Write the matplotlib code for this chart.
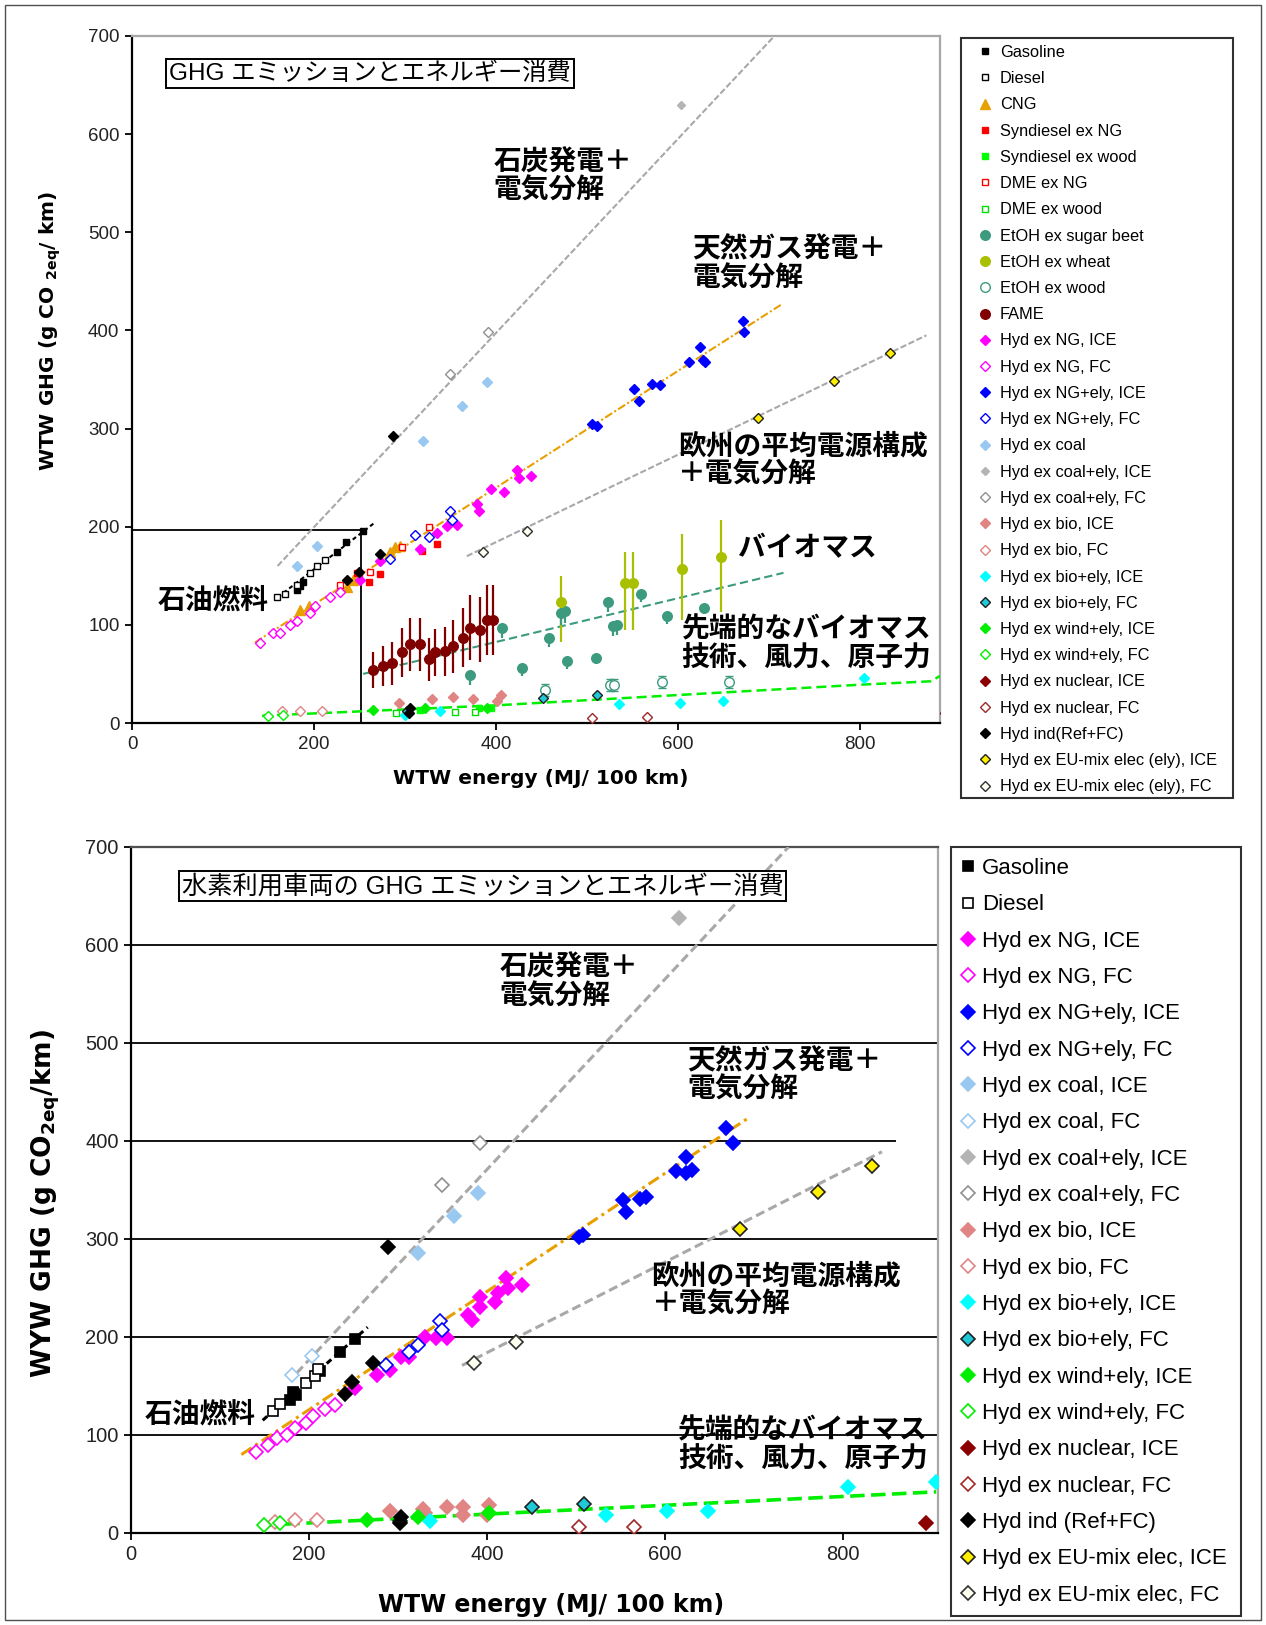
import matplotlib
matplotlib.use("Agg")
import matplotlib.pyplot as plt
from matplotlib.patches import Rectangle

plt.rcParams['font.family'] = ['Liberation Sans', 'Noto Sans CJK JP', 'DejaVu Sans']
plt.rcParams['mathtext.fontset'] = 'dejavusans'

W, H = 1266, 1625

# ======================= DATA : top panel =======================
t_gasoline_x = [181, 185, 188, 225, 235, 254]
t_gasoline_y = [136, 140, 144, 174, 184, 196]
t_diesel_x = [159, 168, 181, 196, 203, 212]
t_diesel_y = [128, 131, 141, 153, 160, 166]
t_cng_x = [185, 194, 236, 243, 284, 289, 295]
t_cng_y = [115, 119, 139, 146, 174, 179, 180]
t_synng_x = [247, 260, 273, 319, 335]
t_synng_y = [153, 144, 152, 175, 182]
t_synwood_x = [317, 381, 394]
t_synwood_y = [13.6, 15.6, 15.6]
t_dmeng_x = [229, 249, 262, 297, 326]
t_dmeng_y = [141, 153, 154, 179, 200]
t_dmewood_x = [290, 355, 377]
t_dmewood_y = [10.5, 11.5, 11.5]
t_beet_x = [372, 407, 429, 458, 472, 476, 478, 510, 523, 529, 533, 559, 588, 629]
t_beet_y = [49, 97, 56, 87, 112, 114, 63, 66, 123, 99, 100, 131, 109, 117]
t_beet_lo = [10, 10, 8, 10, 12, 12, 8, 6, 10, 10, 10, 8, 8, 6]
t_beet_hi = [2, 2, 2, 2, 2, 2, 2, 2, 2, 2, 2, 2, 2, 2]
t_wheat_x = [471, 542, 551, 604, 647]
t_wheat_y = [123, 143, 143, 157, 169]
t_wheat_lo = [40, 48, 48, 52, 56]
t_wheat_hi = [27, 31, 31, 36, 38]
t_etohwood_x = [454, 525, 530, 582, 656]
t_etohwood_y = [34, 39, 39, 42, 42]
t_etohwood_err = [6, 6, 6, 6, 6]
t_fame_x = [265, 276, 286, 297, 306, 317, 326, 333, 344, 353, 364, 372, 383, 390, 397]
t_fame_y = [54, 58, 61, 72, 80, 80, 65, 72, 73, 78, 87, 97, 95, 105, 105]
t_fame_err = [18, 20, 22, 25, 27, 27, 22, 24, 25, 27, 30, 33, 33, 36, 36]
t_ngice_x = [251, 273, 317, 335, 346, 357, 379, 381, 394, 409, 423, 425, 438]
t_ngice_y = [146, 165, 177, 194, 201, 202, 223, 216, 238, 235, 258, 250, 252]
t_ngfc_x = [141, 155, 163, 174, 181, 196, 201, 218, 229]
t_ngfc_y = [82, 92, 92, 100, 104, 112, 119, 128, 133]
t_ngelyice_x = [505, 511, 552, 557, 572, 580, 612, 624, 627, 630, 671, 673]
t_ngelyice_y = [305, 303, 340, 328, 345, 344, 368, 383, 370, 368, 410, 398]
t_ngelyfc_x = [284, 311, 326, 350, 352]
t_ngelyfc_y = [167, 192, 190, 216, 207]
t_coal_x = [181, 203, 320, 363, 390]
t_coal_y = [160, 180, 287, 323, 347]
t_coalelyice_x = [603]
t_coalelyice_y = [630]
t_coalelyfc_x = [350, 391]
t_coalelyfc_y = [356, 398]
t_bioice_x = [293, 330, 353, 375, 401, 405]
t_bioice_y = [20, 24, 26, 24, 22, 29]
t_biofc_x = [165, 185, 209]
t_biofc_y = [12, 12, 12]
t_bioelyice_x = [300, 339, 535, 602, 649, 804]
t_bioelyice_y = [8.5, 12, 19, 20, 22, 46]
t_bioelyfc_x = [302, 452, 511]
t_bioelyfc_y = [12, 25, 29]
t_windice_x = [265, 322, 390]
t_windice_y = [13.6, 15.6, 15.6]
t_windfc_x = [150, 166]
t_windfc_y = [6.8, 8.5]
t_nucice_x = [894]
t_nucice_y = [10]
t_nucfc_x = [505, 566]
t_nucfc_y = [5.4, 6.4]
t_ind_x = [236, 249, 273, 287, 304, 306]
t_ind_y = [146, 154, 172, 292, 10.5, 15.6]
t_euice_x = [688, 772, 833]
t_euice_y = [311, 348, 377]
t_eufc_x = [386, 434]
t_eufc_y = [174, 196]

# trend lines (top)
t_coal_line_x = [160, 706]
t_coal_line_y = [160, 700]
t_ng_line_x = [135, 713]
t_ng_line_y = [82, 426]
t_eu_line_x = [368, 873]
t_eu_line_y = [170, 395]
t_etoh_line_x = [254, 716]
t_etoh_line_y = [50, 153]
t_green_line_x = [143, 400, 800, 878, 888]
t_green_line_y = [7.4, 18, 39, 42.5, 48]
t_oil_line_x = [160, 268]
t_oil_line_y = [128, 205]
t_box_x = 252
t_box_y = 197

# ======================= DATA : bottom panel =======================
b_gasoline_x = [179, 182, 186, 212, 235, 252]
b_gasoline_y = [136, 144, 141, 165, 185, 198]
b_diesel_x = [160, 167, 197, 207, 210]
b_diesel_y = [125, 132, 153, 160, 167]
b_ngice_x = [252, 276, 291, 304, 313, 330, 343, 355, 379, 383, 392, 392, 409, 413, 422, 424, 440]
b_ngice_y = [148, 161, 166, 180, 180, 200, 199, 199, 222, 217, 231, 241, 236, 245, 260, 250, 253]
b_ngfc_x = [140, 154, 164, 175, 184, 197, 205, 218, 229]
b_ngfc_y = [83, 90, 97, 100, 107, 112, 119, 127, 131]
b_ngelyice_x = [504, 508, 553, 556, 572, 579, 613, 624, 624, 630, 669, 677]
b_ngelyice_y = [302, 304, 340, 328, 341, 343, 369, 384, 367, 370, 413, 398]
b_ngelyfc_x = [287, 313, 323, 347, 350]
b_ngelyfc_y = [171, 185, 192, 216, 207]
b_coalice_x = [323, 363, 390]
b_coalice_y = [286, 323, 347]
b_coalfc_x = [181, 203]
b_coalfc_y = [161, 181]
b_coalelyice_x = [616]
b_coalelyice_y = [628]
b_coalelyfc_x = [350, 392]
b_coalelyfc_y = [355, 398]
b_bioice_x = [291, 328, 330, 355, 373, 373, 400, 402]
b_bioice_y = [22, 25, 20, 27, 27, 18, 18, 28.5]
b_biofc_x = [162, 184, 209]
b_biofc_y = [11.5, 13.6, 13.6]
b_bioelyice_x = [336, 534, 602, 649, 806, 905]
b_bioelyice_y = [12, 18, 22, 22, 47, 52]
b_bioelyfc_x = [302, 451, 509]
b_bioelyfc_y = [12, 27, 30]
b_windice_x = [265, 323, 402]
b_windice_y = [13.3, 16.6, 20]
b_windfc_x = [149, 167]
b_windfc_y = [8, 9.9]
b_nucice_x = [894]
b_nucice_y = [10]
b_nucfc_x = [503, 565]
b_nucfc_y = [6.5, 6.5]
b_ind_x = [240, 248, 272, 289, 302, 304]
b_ind_y = [142, 154, 173, 292, 10, 16.6]
b_euice_x = [684, 772, 833]
b_euice_y = [310, 348, 375]
b_eufc_x = [386, 433]
b_eufc_y = [173, 195]

b_coal_line_x = [186, 739]
b_coal_line_y = [163, 700]
b_ng_line_x = [124, 693]
b_ng_line_y = [80, 423]
b_eu_line_x = [372, 844]
b_eu_line_y = [171, 389]
b_green_line_x = [150, 905]
b_green_line_y = [8, 42]
b_oil_line_x = [148, 266]
b_oil_line_y = [115, 210]
b_grid_y = [100, 200, 300, 500, 600]
b_grid400_end = 860

# ======================= STYLES =======================
ORANGE = '#E8A000'
TEAL = '#3C9A7E'
STY = {
    'Gasoline': ('s', 'black', 'black'),
    'Diesel': ('s', 'white', 'black'),
    'CNG': ('^', ORANGE, ORANGE),
    'Syndiesel ex NG': ('s', '#FF0000', '#FF0000'),
    'Syndiesel ex wood': ('s', '#00FF00', '#00FF00'),
    'DME ex NG': ('s', 'white', '#FF0000'),
    'DME ex wood': ('s', 'white', '#00DD00'),
    'EtOH ex sugar beet': ('o', TEAL, TEAL),
    'EtOH ex wheat': ('o', '#A8C000', '#A8C000'),
    'EtOH ex wood': ('o', 'white', TEAL),
    'FAME': ('o', '#800000', '#800000'),
    'NGICE': ('D', '#FF00FF', '#FF00FF'),
    'NGFC': ('D', 'white', '#FF00FF'),
    'NGELYICE': ('D', '#0000FF', '#0000FF'),
    'NGELYFC': ('D', 'white', '#0000FF'),
    'COALICE': ('D', '#99C8F0', '#99C8F0'),
    'COALFC': ('D', 'white', '#99C8F0'),
    'COALELYICE': ('D', '#B4B4B4', '#B4B4B4'),
    'COALELYFC': ('D', 'white', '#909090'),
    'BIOICE': ('D', '#E08484', '#E08484'),
    'BIOFC': ('D', 'white', '#E08484'),
    'BIOELYICE': ('D', '#00FFFF', '#00FFFF'),
    'BIOELYFC': ('D', '#20C8D8', '#202020'),
    'WINDICE': ('D', '#00EE00', '#00EE00'),
    'WINDFC': ('D', 'white', '#00EE00'),
    'NUCICE': ('D', '#8B0000', '#8B0000'),
    'NUCFC': ('D', 'white', '#A02828'),
    'IND': ('D', 'black', 'black'),
    'EUICE': ('D', '#FFF000', '#202020'),
    'EUFC': ('D', '#FFFFF0', '#303030'),
}

top_series = [
    ('Gasoline', 'Gasoline', t_gasoline_x, t_gasoline_y),
    ('Diesel', 'Diesel', t_diesel_x, t_diesel_y),
    ('CNG', 'CNG', t_cng_x, t_cng_y),
    ('Syndiesel ex NG', 'Syndiesel ex NG', t_synng_x, t_synng_y),
    ('Syndiesel ex wood', 'Syndiesel ex wood', t_synwood_x, t_synwood_y),
    ('DME ex NG', 'DME ex NG', t_dmeng_x, t_dmeng_y),
    ('DME ex wood', 'DME ex wood', t_dmewood_x, t_dmewood_y),
    ('EtOH ex sugar beet', 'EtOH ex sugar beet', t_beet_x, t_beet_y),
    ('EtOH ex wheat', 'EtOH ex wheat', t_wheat_x, t_wheat_y),
    ('EtOH ex wood', 'EtOH ex wood', t_etohwood_x, t_etohwood_y),
    ('FAME', 'FAME', t_fame_x, t_fame_y),
    ('NGICE', 'Hyd ex NG, ICE', t_ngice_x, t_ngice_y),
    ('NGFC', 'Hyd ex NG, FC', t_ngfc_x, t_ngfc_y),
    ('NGELYICE', 'Hyd ex NG+ely, ICE', t_ngelyice_x, t_ngelyice_y),
    ('NGELYFC', 'Hyd ex NG+ely, FC', t_ngelyfc_x, t_ngelyfc_y),
    ('COALICE', 'Hyd ex coal', t_coal_x, t_coal_y),
    ('COALELYICE', 'Hyd ex coal+ely, ICE', t_coalelyice_x, t_coalelyice_y),
    ('COALELYFC', 'Hyd ex coal+ely, FC', t_coalelyfc_x, t_coalelyfc_y),
    ('BIOICE', 'Hyd ex bio, ICE', t_bioice_x, t_bioice_y),
    ('BIOFC', 'Hyd ex bio, FC', t_biofc_x, t_biofc_y),
    ('BIOELYICE', 'Hyd ex bio+ely, ICE', t_bioelyice_x, t_bioelyice_y),
    ('BIOELYFC', 'Hyd ex bio+ely, FC', t_bioelyfc_x, t_bioelyfc_y),
    ('WINDICE', 'Hyd ex wind+ely, ICE', t_windice_x, t_windice_y),
    ('WINDFC', 'Hyd ex wind+ely, FC', t_windfc_x, t_windfc_y),
    ('NUCICE', 'Hyd ex nuclear, ICE', t_nucice_x, t_nucice_y),
    ('NUCFC', 'Hyd ex nuclear, FC', t_nucfc_x, t_nucfc_y),
    ('IND', 'Hyd ind(Ref+FC)', t_ind_x, t_ind_y),
    ('EUICE', 'Hyd ex EU-mix elec (ely), ICE', t_euice_x, t_euice_y),
    ('EUFC', 'Hyd ex EU-mix elec (ely), FC', t_eufc_x, t_eufc_y),
]

bottom_series = [
    ('Gasoline', 'Gasoline', b_gasoline_x, b_gasoline_y),
    ('Diesel', 'Diesel', b_diesel_x, b_diesel_y),
    ('NGICE', 'Hyd ex NG, ICE', b_ngice_x, b_ngice_y),
    ('NGFC', 'Hyd ex NG, FC', b_ngfc_x, b_ngfc_y),
    ('NGELYICE', 'Hyd ex NG+ely, ICE', b_ngelyice_x, b_ngelyice_y),
    ('NGELYFC', 'Hyd ex NG+ely, FC', b_ngelyfc_x, b_ngelyfc_y),
    ('COALICE', 'Hyd ex coal, ICE', b_coalice_x, b_coalice_y),
    ('COALFC', 'Hyd ex coal, FC', b_coalfc_x, b_coalfc_y),
    ('COALELYICE', 'Hyd ex coal+ely, ICE', b_coalelyice_x, b_coalelyice_y),
    ('COALELYFC', 'Hyd ex coal+ely, FC', b_coalelyfc_x, b_coalelyfc_y),
    ('BIOICE', 'Hyd ex bio, ICE', b_bioice_x, b_bioice_y),
    ('BIOFC', 'Hyd ex bio, FC', b_biofc_x, b_biofc_y),
    ('BIOELYICE', 'Hyd ex bio+ely, ICE', b_bioelyice_x, b_bioelyice_y),
    ('BIOELYFC', 'Hyd ex bio+ely, FC', b_bioelyfc_x, b_bioelyfc_y),
    ('WINDICE', 'Hyd ex wind+ely, ICE', b_windice_x, b_windice_y),
    ('WINDFC', 'Hyd ex wind+ely, FC', b_windfc_x, b_windfc_y),
    ('NUCICE', 'Hyd ex nuclear, ICE', b_nucice_x, b_nucice_y),
    ('NUCFC', 'Hyd ex nuclear, FC', b_nucfc_x, b_nucfc_y),
    ('IND', 'Hyd ind (Ref+FC)', b_ind_x, b_ind_y),
    ('EUICE', 'Hyd ex EU-mix elec, ICE', b_euice_x, b_euice_y),
    ('EUFC', 'Hyd ex EU-mix elec, FC', b_eufc_x, b_eufc_y),
]


def msize(marker, scale):
    base = {'s': 4.3, 'D': 4.2, 'o': 6.0, '^': 6.0}[marker]
    return base * scale


fig = plt.figure(figsize=(W / 100, H / 100), dpi=100)


def px_axes(x0, y0, x1, y1):
    return fig.add_axes([x0 / W, 1 - y1 / H, (x1 - x0) / W, (y1 - y0) / H])


def setup(ax, xmax, fs, top_color, right_color):
    ax.set_xlim(0, xmax)
    ax.set_ylim(0, 700)
    ax.set_xticks([0, 200, 400, 600, 800])
    ax.set_yticks(range(0, 701, 100))
    ax.tick_params(direction='out', length=5, width=1.3, labelsize=fs, pad=4, colors='black')
    ax.tick_params(axis='both', labelcolor='#222222')
    for s in ('left', 'bottom'):
        ax.spines[s].set_color('black')
        ax.spines[s].set_linewidth(1.6)
    ax.spines['top'].set_color(top_color)
    ax.spines['right'].set_color(right_color)
    ax.spines['top'].set_linewidth(1.6)
    ax.spines['right'].set_linewidth(1.6)


def draw_series(ax, series, scale, mew):
    handles = []
    for key, label, xs, ys in series:
        m, fc, ec = STY[key]
        ms = msize(m, scale)
        if key == 'COALELYICE' and scale < 1.4:
            ms = ms * 0.75
        h, = ax.plot(xs, ys, linestyle='none', marker=m, markersize=ms,
                     markerfacecolor=fc, markeredgecolor=ec, markeredgewidth=mew,
                     label=label, zorder=5)
        handles.append(h)
    return handles


LABEL_FONT = 'DejaVu Sans'

# ----------------------------------------------------------- top panel
ax1 = px_axes(132, 36, 940, 723)
setup(ax1, 888, 13.5, '#A8A8A8', '#A8A8A8')

lw_t = 1.5
ax1.plot(t_coal_line_x, t_coal_line_y, color='#A8A8A8', lw=lw_t, dashes=(3, 1.2), zorder=3)
ax1.plot(t_ng_line_x, t_ng_line_y, color=ORANGE, lw=lw_t, dashes=(4, 1.2, 1, 1.2), zorder=3)
ax1.plot(t_eu_line_x, t_eu_line_y, color='#A8A8A8', lw=lw_t, dashes=(3, 1.2), zorder=3)
ax1.plot(t_etoh_line_x, t_etoh_line_y, color=TEAL, lw=lw_t, dashes=(4, 2), zorder=3)
ax1.plot(t_green_line_x, t_green_line_y, color='#00EE00', lw=1.8, dashes=(4, 2), zorder=3)
ax1.plot(t_oil_line_x, t_oil_line_y, color='black', lw=lw_t, dashes=(2, 1.5), zorder=3)
ax1.hlines(t_box_y, 0, t_box_x, color='black', lw=1.3, zorder=2)
ax1.vlines(t_box_x, 0, t_box_y, color='black', lw=1.3, zorder=2)

ax1.errorbar(t_fame_x, t_fame_y, yerr=t_fame_err, fmt='none', ecolor='#800000', elinewidth=1.6, capsize=0, zorder=4)
ax1.errorbar(t_wheat_x, t_wheat_y, yerr=[t_wheat_lo, t_wheat_hi], fmt='none', ecolor='#A8C000', elinewidth=1.6, capsize=0, zorder=4)
ax1.errorbar(t_beet_x, t_beet_y, yerr=[t_beet_lo, t_beet_hi], fmt='none', ecolor=TEAL, elinewidth=1.6, capsize=0, zorder=4)
ax1.errorbar(t_etohwood_x, t_etohwood_y, yerr=t_etohwood_err, fmt='none', ecolor=TEAL, elinewidth=1.0, capsize=3, zorder=4)

h_top = draw_series(ax1, top_series, 1.15, 1.0)

ax1.set_xlabel('WTW energy (MJ/ 100 km)', fontsize=14.5, fontweight='bold', family=LABEL_FONT)
ax1.xaxis.set_label_coords(0.506, -0.067)
ax1.set_ylabel(r'WTW GHG (g CO $_{\mathbf{2eq}}$/ km)', fontsize=14.5, fontweight='bold', family=LABEL_FONT)
ax1.yaxis.set_label_coords(-0.085, 0.571)

ax1.text(41, 662, 'GHG エミッションとエネルギー消費', fontsize=17.5, va='center', ha='left',
         bbox=dict(boxstyle='square,pad=0.12', fc='white', ec='black', lw=1.4), zorder=8)
ann = dict(fontsize=20, fontweight='bold', va='top', ha='left', linespacing=1.12, zorder=8)
ax1.text(397, 584, '石炭発電＋\n電気分解', **ann)
ax1.text(616, 495, '天然ガス発電＋\n電気分解', **ann)
ax1.text(600, 295, '欧州の平均電源構成\n＋電気分解', **ann)
ax1.text(666, 190, 'バイオマス', **ann)
ax1.text(604, 108, '先端的なバイオマス\n技術、風力、原子力', **ann)
ax1.text(28, 124, '石油燃料', fontsize=20, fontweight='bold', va='center', ha='left', zorder=8)

# ----------------------------------------------------------- bottom panel
ax2 = px_axes(131, 847, 938, 1533)
setup(ax2, 907, 14.5, '#505050', '#A8A8A8')
ax2.hlines(b_grid_y, 0, 907, color='black', lw=1.3, zorder=1)
ax2.hlines(400, 0, b_grid400_end, color='black', lw=1.3, zorder=1)

lw_b = 2.2
ax2.plot(b_coal_line_x, b_coal_line_y, color='#A8A8A8', lw=lw_b, dashes=(3, 1.5), zorder=3)
ax2.plot(b_ng_line_x, b_ng_line_y, color=ORANGE, lw=lw_b, dashes=(4, 1.5, 1, 1.5), zorder=3)
ax2.plot(b_eu_line_x, b_eu_line_y, color='#A8A8A8', lw=lw_b, dashes=(3, 1.5), zorder=3)
ax2.plot(b_green_line_x, b_green_line_y, color='#00EE00', lw=2.6, dashes=(4, 1.8), zorder=3)
ax2.plot(b_oil_line_x, b_oil_line_y, color='black', lw=lw_b, dashes=(2, 1.5), zorder=3)

h_bot = draw_series(ax2, bottom_series, 1.65, 1.2)

ax2.set_xlabel('WTW energy (MJ/ 100 km)', fontsize=17, fontweight='bold', family=LABEL_FONT)
ax2.xaxis.set_label_coords(0.52, -0.087)
ax2.set_ylabel(r'WYW GHG (g CO$_{\mathbf{2eq}}$/km)', fontsize=19, fontweight='bold', family=LABEL_FONT)
ax2.yaxis.set_label_coords(-0.086, 0.48)

ax2.text(57, 660, '水素利用車両の GHG エミッションとエネルギー消費', fontsize=18.2, va='center', ha='left',
         bbox=dict(boxstyle='square,pad=0.12', fc='white', ec='black', lw=1.4), zorder=8)
ax2.text(414, 589, '石炭発電＋\n電気分解', **ann)
ax2.text(625, 494, '天然ガス発電＋\n電気分解', **ann)
ax2.text(585, 275, '欧州の平均電源構成\n＋電気分解', **ann)
ax2.text(615, 117, '先端的なバイオマス\n技術、風力、原子力', **ann)
ax2.text(15, 120, '石油燃料', fontsize=20, fontweight='bold', va='center', ha='left', zorder=8)

# ----------------------------------------------------------- legends
def frame(x0, y0, x1, y1, lw=1.5, ec='#303030'):
    fig.add_artist(Rectangle((x0 / W, 1 - y1 / H), (x1 - x0) / W, (y1 - y0) / H,
                             transform=fig.transFigure, fill=False, ec=ec, lw=lw))

frame(961, 38, 1233, 798)
frame(951, 847, 1241, 1616)
frame(5, 5, 1261, 1620, lw=1.0, ec='#505050')

fig.legend(handles=h_top, loc='upper left', bbox_to_anchor=(977.6 / W, 1 - 45 / H),
           bbox_transform=fig.transFigure, frameon=False, borderpad=0, borderaxespad=0,
           handlelength=0.9, handletextpad=0.47, labelspacing=0.685, numpoints=1,
           prop={'family': 'Liberation Sans', 'size': 11.8})
fig.legend(handles=h_bot, loc='upper left', bbox_to_anchor=(960.8 / W, 1 - 858 / H),
           bbox_transform=fig.transFigure, frameon=False, borderpad=0, borderaxespad=0,
           handlelength=0.65, handletextpad=0.3, labelspacing=0.69, numpoints=1,
           prop={'family': 'Liberation Sans', 'size': 16})

fig.savefig('out.png', dpi=100)
